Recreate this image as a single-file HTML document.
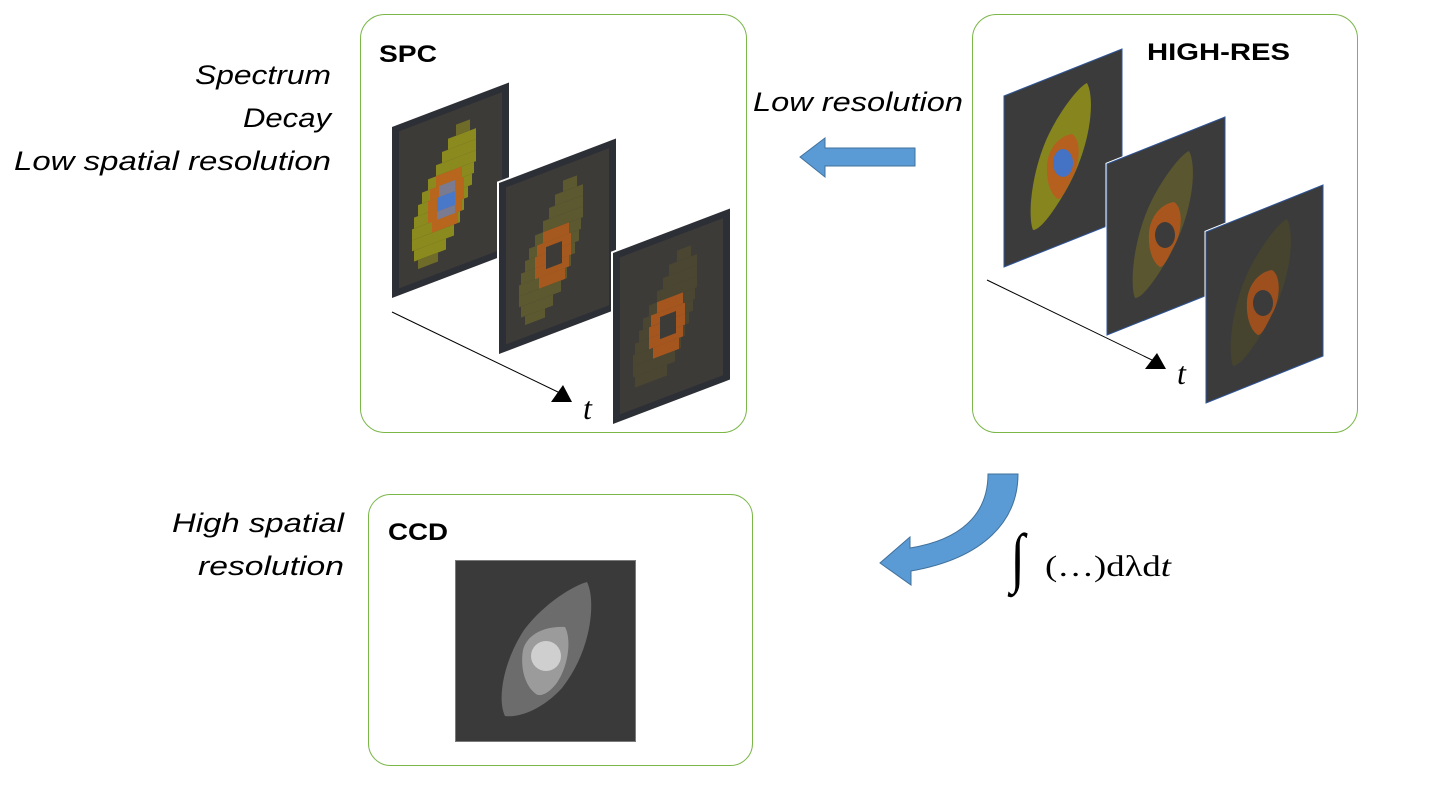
<!DOCTYPE html>
<html><head><meta charset="utf-8"><style>html,body{margin:0;padding:0;background:#fff}svg{display:block}</style></head>
<body>
<svg width="1454" height="796" viewBox="0 0 1454 796" xmlns="http://www.w3.org/2000/svg" font-family="Liberation Sans, sans-serif">
<defs>
<g id="pframe">
<rect x="0" y="0" width="117" height="171" fill="#2d2f37"/>
<rect x="7" y="7" width="103" height="157" fill="#3d3b37"/>
</g>
<path id="lens" d="M1087,83 C1096,100 1090,150 1065,192 C1052,214 1040,230 1033,230 C1027,215 1032,165 1052,128 C1065,104 1080,86 1087,83 Z"/>
<path id="ring" d="M1072,134 C1082,140 1080,165 1072,178 C1066,190 1062,199 1058,199 C1050,194 1046,180 1047,165 C1048,150 1058,136 1072,134 Z"/>
</defs>
<!-- boxes -->
<rect x="360.5" y="14.5" width="386" height="418" rx="24" fill="#fff" stroke="#7ab648" stroke-width="1"/>
<rect x="972.5" y="14.5" width="385" height="418" rx="24" fill="#fff" stroke="#7ab648" stroke-width="1"/>
<rect x="368.5" y="494.5" width="384" height="271" rx="22" fill="#fff" stroke="#7ab648" stroke-width="1"/>

<!-- left labels -->
<g font-style="italic" font-size="27" fill="#000" text-anchor="end">
<text x="331" y="84" textLength="136" lengthAdjust="spacingAndGlyphs">Spectrum</text>
<text x="331" y="127" textLength="88" lengthAdjust="spacingAndGlyphs">Decay</text>
<text x="331" y="170" textLength="317" lengthAdjust="spacingAndGlyphs">Low spatial resolution</text>
<text x="344" y="532" textLength="172" lengthAdjust="spacingAndGlyphs">High spatial</text>
<text x="344" y="575" textLength="146" lengthAdjust="spacingAndGlyphs">resolution</text>
</g>
<text x="753" y="111" font-style="italic" font-size="27" textLength="210" lengthAdjust="spacingAndGlyphs">Low resolution</text>

<g font-weight="bold" font-size="24">
<text x="379" y="62" textLength="58" lengthAdjust="spacingAndGlyphs">SPC</text>
<text x="1147" y="60" textLength="143" lengthAdjust="spacingAndGlyphs">HIGH-RES</text>
<text x="388" y="540" textLength="60" lengthAdjust="spacingAndGlyphs">CCD</text>
</g>

<!-- SPC axis -->
<line x1="392" y1="312" x2="560" y2="393" stroke="#000" stroke-width="1"/>
<polygon points="551,402 572,402 563,385" fill="#000"/>
<text x="583" y="419" font-family="Liberation Serif, serif" font-style="italic" font-size="32">t</text>

<!-- SPC frames -->
<g transform="matrix(1,-0.38,0,1,392,127)">
<use href="#pframe"/>
<g fill="#8a8a1e">
<rect x="64" y="22" width="14" height="11" fill="#6f6c2a"/>
<rect x="56" y="33" width="28" height="11"/>
<rect x="50" y="44" width="34" height="11"/>
<rect x="44" y="55" width="40" height="11"/>
<rect x="36" y="66" width="46" height="11"/>
<rect x="30" y="77" width="50" height="11"/>
<rect x="26" y="88" width="50" height="11"/>
<rect x="22" y="99" width="50" height="11"/>
<rect x="20" y="110" width="48" height="11"/>
<rect x="20" y="121" width="42" height="11"/>
<rect x="22" y="132" width="32" height="11"/>
<rect x="26" y="143" width="20" height="9" fill="#6f6c2a"/>
</g>
<g fill="#b8661e">
<rect x="44" y="66" width="26" height="11"/>
<rect x="38" y="77" width="34" height="11"/>
<rect x="36" y="88" width="36" height="11"/>
<rect x="36" y="99" width="34" height="11"/>
<rect x="40" y="110" width="26" height="11"/>
</g>
<rect x="47" y="77" width="16" height="11" fill="#7a7a90"/>
<rect x="45" y="88" width="18" height="14" fill="#4a78c8"/>
<rect x="45" y="102" width="18" height="8" fill="#7a7a90"/>
</g>

<g transform="matrix(1,-0.38,0,1,499,183)">
<rect x="-2" y="-2" width="121" height="175" fill="#fff"/>
<use href="#pframe"/>
<g fill="#5c5830">
<rect x="64" y="22" width="14" height="11"/>
<rect x="56" y="33" width="28" height="11"/>
<rect x="50" y="44" width="34" height="11"/>
<rect x="44" y="55" width="40" height="11"/>
<rect x="36" y="66" width="46" height="11"/>
<rect x="30" y="77" width="50" height="11"/>
<rect x="26" y="88" width="50" height="11"/>
<rect x="22" y="99" width="50" height="11"/>
<rect x="20" y="110" width="48" height="11"/>
<rect x="20" y="121" width="42" height="11"/>
<rect x="22" y="132" width="32" height="11"/>
<rect x="26" y="143" width="20" height="9"/>
</g>
<g fill="#a5591e">
<rect x="44" y="66" width="26" height="11"/>
<rect x="38" y="77" width="34" height="11"/>
<rect x="36" y="88" width="36" height="11"/>
<rect x="36" y="99" width="34" height="11"/>
<rect x="40" y="110" width="26" height="11"/>
</g>
<rect x="47" y="82" width="16" height="22" fill="#3d3b37"/>
</g>

<g transform="matrix(1,-0.38,0,1,613,253)">
<rect x="-2" y="-2" width="121" height="175" fill="#fff"/>
<use href="#pframe"/>
<g fill="#4a4632">
<rect x="64" y="22" width="14" height="11"/>
<rect x="56" y="33" width="28" height="11"/>
<rect x="50" y="44" width="34" height="11"/>
<rect x="44" y="55" width="40" height="11"/>
<rect x="36" y="66" width="46" height="11"/>
<rect x="30" y="77" width="50" height="11"/>
<rect x="26" y="88" width="50" height="11"/>
<rect x="22" y="99" width="50" height="11"/>
<rect x="20" y="110" width="48" height="11"/>
<rect x="20" y="121" width="42" height="11"/>
<rect x="22" y="132" width="32" height="11"/>
</g>
<g fill="#a5561e">
<rect x="44" y="66" width="26" height="11"/>
<rect x="38" y="77" width="34" height="11"/>
<rect x="36" y="88" width="36" height="11"/>
<rect x="36" y="99" width="34" height="11"/>
<rect x="40" y="110" width="26" height="11"/>
</g>
<rect x="47" y="82" width="16" height="22" fill="#3d3b37"/>
</g>

<!-- straight arrow -->
<polygon points="800,157 825,138 825,148 915,148 915,166 825,166 825,177" fill="#5b9bd5" stroke="#41719c" stroke-width="1"/>

<!-- HIGH-RES axis -->
<line x1="987" y1="280" x2="1152" y2="360" stroke="#000" stroke-width="1"/>
<polygon points="1145,369 1166,369 1157,353" fill="#000"/>
<text x="1177" y="384" font-family="Liberation Serif, serif" font-style="italic" font-size="32">t</text>

<!-- HIGH-RES frames -->
<polygon points="1004,96 1122,49 1122,220 1004,267" fill="#3b3b3b" stroke="#2f5597" stroke-width="1"/>
<use href="#lens" fill="#87861e"/>
<use href="#ring" fill="#b5601e"/>
<ellipse cx="1063" cy="163" rx="10" ry="14" fill="#4472c4"/>

<polygon points="1107,164 1225,117 1225,288 1107,335" fill="#3b3b3b" stroke="#fff" stroke-width="3"/>
<polygon points="1107,164 1225,117 1225,288 1107,335" fill="#3b3b3b" stroke="#2f5597" stroke-width="1"/>
<g transform="translate(102,68)">
<use href="#lens" fill="#5a5630"/>
<use href="#ring" fill="#a8561e"/>
<ellipse cx="1063" cy="167" rx="10" ry="13" fill="#3b3b3b"/>
</g>

<polygon points="1206,232 1323,185 1323,356 1206,403" fill="#3b3b3b" stroke="#fff" stroke-width="3"/>
<polygon points="1206,232 1323,185 1323,356 1206,403" fill="#3b3b3b" stroke="#2f5597" stroke-width="1"/>
<g transform="translate(200,136)">
<use href="#lens" fill="#46432f"/>
<use href="#ring" fill="#9d501e"/>
<ellipse cx="1063" cy="167" rx="10" ry="13" fill="#3b3b3b"/>
</g>

<!-- curved arrow -->
<path d="M988,474 L1018,474 C1018,520 985,558 911,571 L911,585 L880,563 L910,537 L910,548 C960,540 988,515 988,474 Z" fill="#5b9bd5" stroke="#41719c" stroke-width="1"/>

<!-- integral -->
<text x="1012" y="575" font-family="Liberation Serif, serif" font-size="44" transform="translate(1020,566) scale(1.2,1.5) translate(-1020,-566)">∫</text>
<text x="1045" y="576" font-family="Liberation Serif, serif" font-size="30" textLength="126" lengthAdjust="spacingAndGlyphs">(…)dλd<tspan font-style="italic">t</tspan></text>

<!-- CCD image -->
<rect x="455.5" y="560.5" width="180" height="181" fill="#3a3a3a" stroke="#7a7a7a" stroke-width="1"/>
<path d="M587,582 C596,600 592,650 562,688 C542,710 518,718 505,716 C497,700 503,662 524,630 C545,602 575,585 587,582 Z" fill="#6c6c6c"/>
<path d="M565,627 C572,640 568,668 556,684 C548,694 540,697 536,694 C525,686 520,668 523,650 C527,634 545,626 565,627 Z" fill="#9b9b9b"/>
<circle cx="546" cy="656" r="15" fill="#cfcfcf"/>
</svg>
</body></html>
